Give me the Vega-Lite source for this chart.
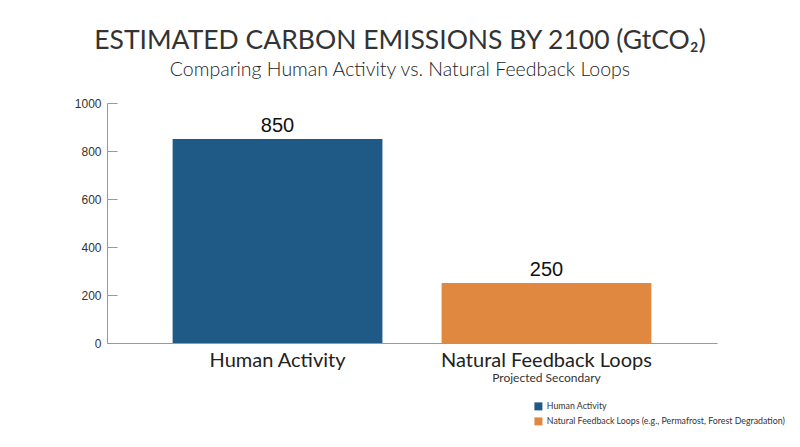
{
  "$schema": "https://vega.github.io/schema/vega-lite/v6.json",
  "autosize": {"type": "none"},
  "padding": {"left": 107, "top": 103, "right": 83, "bottom": 104},
  "width": 610,
  "height": 240,
  "background": "white",
  "title": {
    "text": "ESTIMATED CARBON EMISSIONS BY 2100 (GtCO₂)",
    "subtitle": "Comparing Human Activity vs. Natural Feedback Loops",
    "anchor": "middle",
    "dx": -12,
    "offset": 18,
    "font": "Lato",
    "fontSize": 26.5,
    "fontWeight": 400,
    "color": "#333333",
    "subtitleFont": "Lato",
    "subtitleFontSize": 19.5,
    "subtitleFontWeight": 300,
    "subtitleColor": "#222222",
    "subtitlePadding": 6
  },
  "data": {
    "values": [
      {"category": "Human Activity", "series": "Human Activity", "value": 850, "note": ""},
      {"category": "Natural Feedback Loops", "series": "Natural Feedback Loops (e.g., Permafrost, Forest Degradation)", "value": 250, "note": "Projected Secondary"}
    ]
  },
  "encoding": {
    "x": {
      "field": "category",
      "type": "nominal",
      "sort": null,
      "scale": {"paddingInner": 0.22, "paddingOuter": 0.244},
      "axis": {
        "title": null,
        "labelAngle": 0,
        "labelLimit": 0,
        "ticks": false,
        "domainColor": "#999999",
        "labelFont": "Lato",
        "labelFontSize": 20,
        "labelColor": "#222222",
        "labelPadding": 7
      }
    }
  },
  "layer": [
    {
      "mark": {"type": "bar"},
      "encoding": {
        "y": {
          "field": "value",
          "type": "quantitative",
          "scale": {"domain": [0, 1000]},
          "axis": {
            "title": null,
            "values": [0, 200, 400, 600, 800, 1000],
            "format": "d",
            "grid": false,
            "domainColor": "#999999",
            "tickColor": "#999999",
            "tickSize": -10,
            "labelPadding": 16,
            "labelFont": "Liberation Sans",
            "labelFontSize": 12,
            "labelColor": "#333333"
          }
        },
        "color": {
          "field": "series",
          "type": "nominal",
          "sort": null,
          "scale": {"range": ["#1f5a87", "#e0883f"]},
          "legend": {
            "title": null,
            "orient": "none",
            "legendX": 427,
            "legendY": 299,
            "symbolType": "square",
            "symbolSize": 64,
            "symbolStrokeWidth": 0,
            "labelFont": "Lato",
            "labelFontSize": 8.8,
            "labelLimit": 0,
            "labelColor": "#333333",
            "labelOffset": 4,
            "rowPadding": 5
          }
        }
      }
    },
    {
      "mark": {"type": "text", "baseline": "bottom", "dy": -3, "font": "Liberation Sans", "fontSize": 20, "color": "#111111"},
      "encoding": {
        "y": {"field": "value", "type": "quantitative"},
        "text": {"field": "value", "type": "quantitative"}
      }
    },
    {
      "mark": {"type": "text", "baseline": "middle", "dy": 35, "font": "Lato", "fontSize": 12, "color": "#333333"},
      "encoding": {
        "y": {"datum": 0},
        "text": {"field": "note"}
      }
    }
  ],
  "config": {
    "view": {"stroke": null}
  }
}
